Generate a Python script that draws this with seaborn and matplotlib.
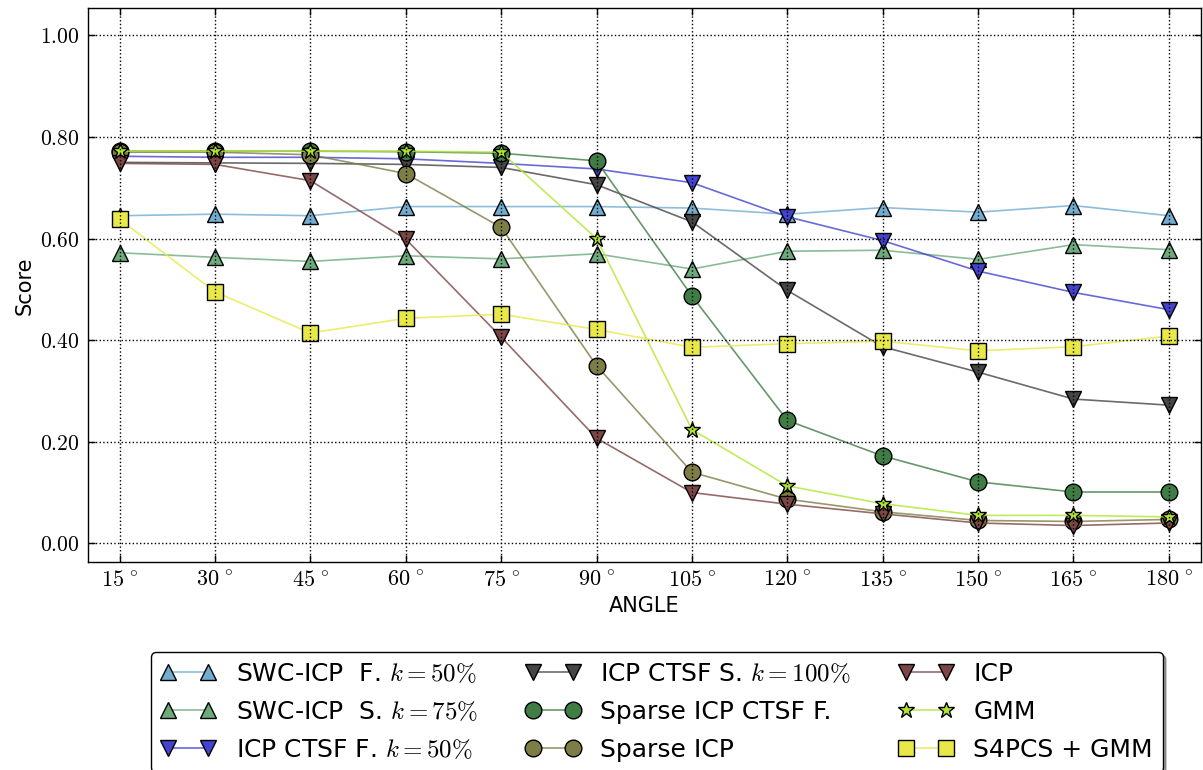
import numpy as np
import pandas as pd
import seaborn as sns
import matplotlib.pyplot as plt
from matplotlib.colors import to_rgba

plt.rcParams['mathtext.fontset'] = 'cm'
plt.rcParams['font.family'] = ['DejaVu Sans']

# data
angles = [15, 30, 45, 60, 75, 90, 105, 120, 135, 150, 165, 180]

swc_f = [0.645, 0.648, 0.645, 0.663, 0.663, 0.663, 0.660, 0.648, 0.661, 0.652, 0.665, 0.645]
swc_s = [0.572, 0.563, 0.555, 0.566, 0.560, 0.570, 0.540, 0.575, 0.577, 0.559, 0.588, 0.578]
ctsf_f = [0.762, 0.760, 0.760, 0.757, 0.748, 0.737, 0.710, 0.643, 0.596, 0.536, 0.494, 0.460]
ctsf_s = [0.750, 0.749, 0.748, 0.746, 0.740, 0.706, 0.633, 0.498, 0.387, 0.337, 0.284, 0.272]
sparse_ctsf = [0.772, 0.772, 0.772, 0.771, 0.768, 0.753, 0.487, 0.242, 0.172, 0.121, 0.101, 0.101]
sparse_icp = [0.770, 0.770, 0.765, 0.728, 0.622, 0.350, 0.140, 0.087, 0.062, 0.045, 0.043, 0.047]
icp = [0.748, 0.746, 0.714, 0.599, 0.406, 0.207, 0.100, 0.077, 0.058, 0.040, 0.035, 0.040]
gmm = [0.772, 0.772, 0.772, 0.772, 0.770, 0.600, 0.224, 0.113, 0.078, 0.055, 0.055, 0.052]
s4pcs = [0.638, 0.495, 0.414, 0.443, 0.451, 0.421, 0.386, 0.393, 0.398, 0.379, 0.387, 0.408]

labels = [r'SWC-ICP  F. $k=50\%$', r'SWC-ICP  S. $k=75\%$', r'ICP CTSF F. $k=50\%$',
          r'ICP CTSF S. $k=100\%$', 'Sparse ICP CTSF F.', 'Sparse ICP',
          'ICP', 'GMM', 'S4PCS + GMM']
series = [swc_f, swc_s, ctsf_f, ctsf_s, sparse_ctsf, sparse_icp, icp, gmm, s4pcs]
colors = ['#72add0', '#6dab7d', '#4343cf', '#454545', '#3f7d45', '#7d7d45',
          '#7d4545', '#b2e533', '#e8e848']
markers = ['^', '^', 'v', 'v', 'o', 'o', 'v', '*', 's']
msizes = [12, 12, 12, 12, 12, 12, 12, 12, 11]

fig = plt.figure(figsize=(12.03, 7.7), dpi=100)
ax = fig.add_axes([0.073, 0.27, 0.925, 0.719])

for vals, lab, c, m, ms in zip(series, labels, colors, markers, msizes):
    df = pd.DataFrame({'angle': angles, 'score': vals})
    sns.lineplot(data=df, x='angle', y='score', ax=ax, label=lab,
                 color=to_rgba(c, 0.8), marker=m, markersize=ms,
                 markerfacecolor=c, markeredgecolor='black',
                 markeredgewidth=1.0, linewidth=1.2)

ax.set_xlim(10, 185)
ax.set_ylim(-0.037, 1.053)
ax.set_xticks(angles)
ax.set_xticklabels([r'$%d^{\,\circ}$' % a for a in angles], fontsize=16)
yt = [0.0, 0.2, 0.4, 0.6, 0.8, 1.0]
ax.set_yticks(yt)
ax.set_yticklabels([r'$%.2f$' % v for v in yt], fontsize=15.5)
ax.tick_params(direction='in', length=5, width=1, top=True, right=True, pad=6)
ax.set_axisbelow(False)
ax.grid(True, color='black', linestyle=':', linewidth=1.0)
for s in ax.spines.values():
    s.set_color('black')
    s.set_linewidth(1.0)
ax.set_xlabel('ANGLE', fontsize=15)
ax.set_ylabel('Score', fontsize=15)

ax.legend_.remove()
h, l = ax.get_legend_handles_labels()
fig.legend(h, l, loc='upper center', bbox_to_anchor=(0.546, 0.153), ncol=3,
           fontsize=18, numpoints=2, handlelength=2.2, handletextpad=0.8,
           columnspacing=1.9, labelspacing=0.55, borderpad=0.4,
           borderaxespad=0.0, frameon=True, fancybox=True, shadow=True,
           edgecolor='black', framealpha=1.0)

fig.savefig('out.png', dpi=100)
